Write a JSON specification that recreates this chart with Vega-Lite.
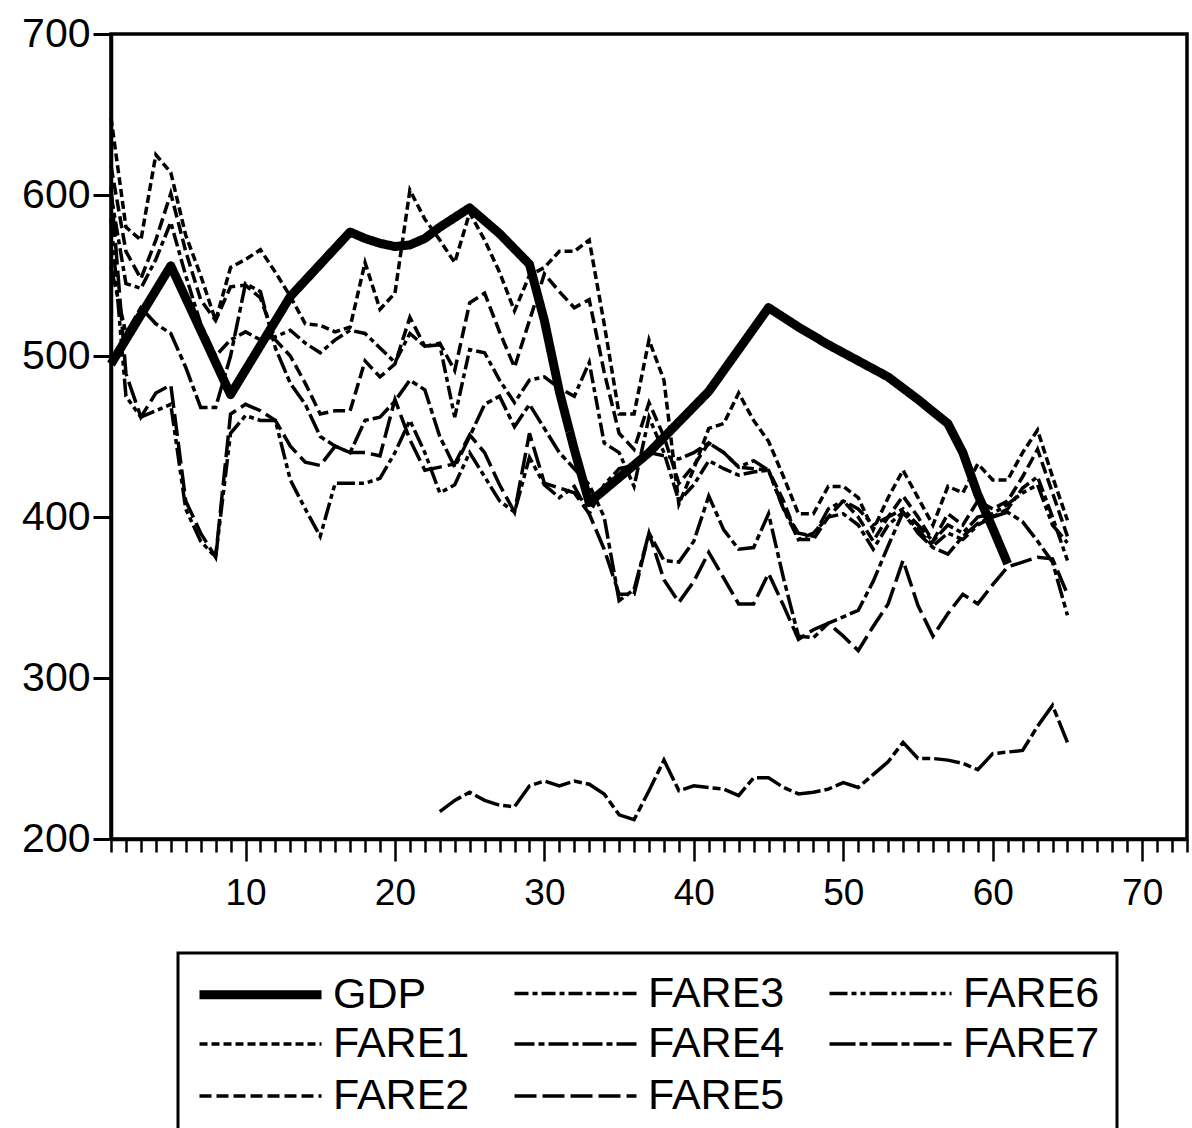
{
  "$schema": "https://vega.github.io/schema/vega-lite/v6.json",
  "width": 1076,
  "height": 805,
  "autosize": {"type": "none"},
  "padding": {"left": 111, "top": 34, "right": 5, "bottom": 289},
  "background": "white",
  "config": {
    "view": {"stroke": "black", "strokeWidth": 3.5},
    "font": "Liberation Sans",
    "axis": {"grid": false, "domainColor": "black", "tickColor": "black", "labelColor": "black", "labelFont": "Liberation Sans"},
    "legend": {"strokeWidth": 3}
  },
  "data": {"values": [
    {"obs":1,"GDP":495,"FARE1":648,"FARE2":618,"FARE3":600,"FARE4":555,"FARE5":605,"FARE6":585,"FARE7":null},
    {"obs":2,"GDP":null,"FARE1":580,"FARE2":565,"FARE3":545,"FARE4":514,"FARE5":489,"FARE6":475,"FARE7":null},
    {"obs":3,"GDP":null,"FARE1":572,"FARE2":548,"FARE3":542,"FARE4":530,"FARE5":462,"FARE6":462,"FARE7":null},
    {"obs":4,"GDP":null,"FARE1":625,"FARE2":572,"FARE3":560,"FARE4":520,"FARE5":477,"FARE6":466,"FARE7":null},
    {"obs":5,"GDP":556,"FARE1":614,"FARE2":601,"FARE3":583,"FARE4":514,"FARE5":482,"FARE6":470,"FARE7":null},
    {"obs":6,"GDP":null,"FARE1":575,"FARE2":565,"FARE3":550,"FARE4":493,"FARE5":410,"FARE6":405,"FARE7":null},
    {"obs":7,"GDP":null,"FARE1":550,"FARE2":535,"FARE3":520,"FARE4":468,"FARE5":390,"FARE6":385,"FARE7":null},
    {"obs":8,"GDP":null,"FARE1":522,"FARE2":522,"FARE3":500,"FARE4":468,"FARE5":375,"FARE6":375,"FARE7":null},
    {"obs":9,"GDP":476,"FARE1":555,"FARE2":543,"FARE3":510,"FARE4":500,"FARE5":464,"FARE6":452,"FARE7":null},
    {"obs":10,"GDP":null,"FARE1":560,"FARE2":544,"FARE3":515,"FARE4":545,"FARE5":470,"FARE6":463,"FARE7":null},
    {"obs":11,"GDP":null,"FARE1":566,"FARE2":536,"FARE3":510,"FARE4":540,"FARE5":466,"FARE6":460,"FARE7":null},
    {"obs":12,"GDP":null,"FARE1":552,"FARE2":510,"FARE3":512,"FARE4":505,"FARE5":460,"FARE6":460,"FARE7":null},
    {"obs":13,"GDP":537,"FARE1":537,"FARE2":500,"FARE3":516,"FARE4":483,"FARE5":444,"FARE6":423,"FARE7":null},
    {"obs":14,"GDP":null,"FARE1":520,"FARE2":483,"FARE3":508,"FARE4":470,"FARE5":434,"FARE6":405,"FARE7":null},
    {"obs":15,"GDP":null,"FARE1":519,"FARE2":464,"FARE3":502,"FARE4":450,"FARE5":432,"FARE6":388,"FARE7":null},
    {"obs":16,"GDP":null,"FARE1":515,"FARE2":466,"FARE3":510,"FARE4":444,"FARE5":444,"FARE6":421,"FARE7":null},
    {"obs":17,"GDP":577,"FARE1":518,"FARE2":466,"FARE3":516,"FARE4":440,"FARE5":440,"FARE6":421,"FARE7":null},
    {"obs":18,"GDP":573,"FARE1":558,"FARE2":497,"FARE3":514,"FARE4":460,"FARE5":440,"FARE6":421,"FARE7":null},
    {"obs":19,"GDP":570,"FARE1":529,"FARE2":487,"FARE3":505,"FARE4":462,"FARE5":438,"FARE6":424,"FARE7":null},
    {"obs":20,"GDP":568,"FARE1":539,"FARE2":495,"FARE3":496,"FARE4":472,"FARE5":473,"FARE6":440,"FARE7":null},
    {"obs":21,"GDP":569,"FARE1":603,"FARE2":524,"FARE3":514,"FARE4":485,"FARE5":448,"FARE6":460,"FARE7":null},
    {"obs":22,"GDP":573,"FARE1":585,"FARE2":506,"FARE3":506,"FARE4":479,"FARE5":429,"FARE6":440,"FARE7":null},
    {"obs":23,"GDP":580,"FARE1":572,"FARE2":508,"FARE3":507,"FARE4":450,"FARE5":431,"FARE6":415,"FARE7":217},
    {"obs":24,"GDP":586,"FARE1":558,"FARE2":491,"FARE3":462,"FARE4":431,"FARE5":433,"FARE6":420,"FARE7":224},
    {"obs":25,"GDP":592,"FARE1":589,"FARE2":533,"FARE3":504,"FARE4":450,"FARE5":451,"FARE6":440,"FARE7":229},
    {"obs":26,"GDP":null,"FARE1":572,"FARE2":539,"FARE3":502,"FARE4":470,"FARE5":440,"FARE6":425,"FARE7":224},
    {"obs":27,"GDP":576,"FARE1":552,"FARE2":515,"FARE3":485,"FARE4":475,"FARE5":420,"FARE6":410,"FARE7":221},
    {"obs":28,"GDP":null,"FARE1":528,"FARE2":493,"FARE3":471,"FARE4":456,"FARE5":403,"FARE6":403,"FARE7":220},
    {"obs":29,"GDP":557,"FARE1":550,"FARE2":522,"FARE3":485,"FARE4":470,"FARE5":452,"FARE6":437,"FARE7":233},
    {"obs":30,"GDP":522,"FARE1":555,"FARE2":551,"FARE3":487,"FARE4":455,"FARE5":421,"FARE6":420,"FARE7":236},
    {"obs":31,"GDP":478,"FARE1":565,"FARE2":540,"FARE3":480,"FARE4":440,"FARE5":418,"FARE6":412,"FARE7":233},
    {"obs":32,"GDP":442,"FARE1":565,"FARE2":530,"FARE3":475,"FARE4":430,"FARE5":415,"FARE6":419,"FARE7":236},
    {"obs":33,"GDP":409,"FARE1":572,"FARE2":535,"FARE3":496,"FARE4":420,"FARE5":402,"FARE6":402,"FARE7":234},
    {"obs":34,"GDP":null,"FARE1":520,"FARE2":490,"FARE3":446,"FARE4":400,"FARE5":380,"FARE6":420,"FARE7":228},
    {"obs":35,"GDP":null,"FARE1":464,"FARE2":452,"FARE3":440,"FARE4":348,"FARE5":352,"FARE6":430,"FARE7":215},
    {"obs":36,"GDP":null,"FARE1":464,"FARE2":442,"FARE3":419,"FARE4":355,"FARE5":352,"FARE6":432,"FARE7":212},
    {"obs":37,"GDP":440,"FARE1":510,"FARE2":471,"FARE3":462,"FARE4":390,"FARE5":390,"FARE6":440,"FARE7":230},
    {"obs":38,"GDP":null,"FARE1":485,"FARE2":450,"FARE3":440,"FARE4":373,"FARE5":361,"FARE6":438,"FARE7":249},
    {"obs":39,"GDP":null,"FARE1":408,"FARE2":421,"FARE3":410,"FARE4":372,"FARE5":347,"FARE6":436,"FARE7":230},
    {"obs":40,"GDP":null,"FARE1":430,"FARE2":432,"FARE3":420,"FARE4":385,"FARE5":360,"FARE6":440,"FARE7":233},
    {"obs":41,"GDP":478,"FARE1":455,"FARE2":446,"FARE3":435,"FARE4":413,"FARE5":378,"FARE6":446,"FARE7":232},
    {"obs":42,"GDP":null,"FARE1":458,"FARE2":440,"FARE3":430,"FARE4":392,"FARE5":362,"FARE6":440,"FARE7":231},
    {"obs":43,"GDP":504,"FARE1":477,"FARE2":431,"FARE3":426,"FARE4":380,"FARE5":346,"FARE6":431,"FARE7":227},
    {"obs":44,"GDP":null,"FARE1":460,"FARE2":430,"FARE3":428,"FARE4":381,"FARE5":346,"FARE6":435,"FARE7":238},
    {"obs":45,"GDP":530,"FARE1":447,"FARE2":429,"FARE3":429,"FARE4":402,"FARE5":365,"FARE6":429,"FARE7":238},
    {"obs":46,"GDP":null,"FARE1":425,"FARE2":410,"FARE3":405,"FARE4":362,"FARE5":345,"FARE6":405,"FARE7":232},
    {"obs":47,"GDP":518,"FARE1":402,"FARE2":386,"FARE3":386,"FARE4":326,"FARE5":324,"FARE6":390,"FARE7":228},
    {"obs":48,"GDP":null,"FARE1":402,"FARE2":386,"FARE3":390,"FARE4":325,"FARE5":330,"FARE6":388,"FARE7":229},
    {"obs":49,"GDP":507,"FARE1":419,"FARE2":400,"FARE3":400,"FARE4":334,"FARE5":334,"FARE6":405,"FARE7":231},
    {"obs":50,"GDP":null,"FARE1":419,"FARE2":410,"FARE3":402,"FARE4":338,"FARE5":326,"FARE6":410,"FARE7":235},
    {"obs":51,"GDP":497,"FARE1":412,"FARE2":400,"FARE3":395,"FARE4":342,"FARE5":317,"FARE6":405,"FARE7":232},
    {"obs":52,"GDP":null,"FARE1":392,"FARE2":385,"FARE3":380,"FARE4":360,"FARE5":332,"FARE6":395,"FARE7":240},
    {"obs":53,"GDP":487,"FARE1":412,"FARE2":400,"FARE3":395,"FARE4":382,"FARE5":346,"FARE6":400,"FARE7":248},
    {"obs":54,"GDP":null,"FARE1":429,"FARE2":413,"FARE3":403,"FARE4":403,"FARE5":373,"FARE6":405,"FARE7":260},
    {"obs":55,"GDP":473,"FARE1":412,"FARE2":400,"FARE3":392,"FARE4":390,"FARE5":345,"FARE6":395,"FARE7":250},
    {"obs":56,"GDP":null,"FARE1":395,"FARE2":385,"FARE3":382,"FARE4":381,"FARE5":326,"FARE6":385,"FARE7":250},
    {"obs":57,"GDP":458,"FARE1":419,"FARE2":402,"FARE3":390,"FARE4":377,"FARE5":340,"FARE6":395,"FARE7":249},
    {"obs":58,"GDP":440,"FARE1":415,"FARE2":395,"FARE3":386,"FARE4":388,"FARE5":352,"FARE6":390,"FARE7":247},
    {"obs":59,"GDP":414,"FARE1":433,"FARE2":410,"FARE3":395,"FARE4":396,"FARE5":346,"FARE6":400,"FARE7":243},
    {"obs":60,"GDP":393,"FARE1":423,"FARE2":405,"FARE3":400,"FARE4":400,"FARE5":358,"FARE6":402,"FARE7":253},
    {"obs":61,"GDP":371,"FARE1":423,"FARE2":410,"FARE3":405,"FARE4":403,"FARE5":369,"FARE6":408,"FARE7":254},
    {"obs":62,"GDP":null,"FARE1":440,"FARE2":425,"FARE3":418,"FARE4":397,"FARE5":372,"FARE6":415,"FARE7":255},
    {"obs":63,"GDP":null,"FARE1":454,"FARE2":442,"FARE3":425,"FARE4":385,"FARE5":375,"FARE6":420,"FARE7":270},
    {"obs":64,"GDP":null,"FARE1":425,"FARE2":415,"FARE3":400,"FARE4":372,"FARE5":374,"FARE6":395,"FARE7":283},
    {"obs":65,"GDP":null,"FARE1":398,"FARE2":388,"FARE3":373,"FARE4":339,"FARE5":352,"FARE6":384,"FARE7":260}
  ]},
  "transform": [
    {"fold": ["GDP","FARE1","FARE2","FARE3","FARE4","FARE5","FARE6","FARE7"], "as": ["series","value"]},
    {"filter": "datum.value != null"}
  ],
  "encoding": {
    "x": {
      "field": "obs", "type": "quantitative",
      "scale": {"domain": [1, 73], "nice": false, "zero": false},
      "axis": {
        "title": null,
        "values": [1,2,3,4,5,6,7,8,9,10,11,12,13,14,15,16,17,18,19,20,21,22,23,24,25,26,27,28,29,30,31,32,33,34,35,36,37,38,39,40,41,42,43,44,45,46,47,48,49,50,51,52,53,54,55,56,57,58,59,60,61,62,63,64,65,66,67,68,69,70,71,72,73],
        "labelExpr": "datum.value % 10 === 0 ? datum.label : ''",
        "tickSize": {"condition": {"test": "datum.value % 10 === 0", "value": 22}, "value": 13},
        "tickWidth": 2.5,
        "domainWidth": 3.5,
        "labelFontSize": 37,
        "labelPadding": 14,
        "labelOverlap": false,
        "labelFlush": false
      }
    },
    "y": {
      "field": "value", "type": "quantitative",
      "scale": {"domain": [200, 700], "nice": false, "zero": false},
      "axis": {
        "title": null,
        "values": [200,300,400,500,600,700],
        "tickSize": 18,
        "tickWidth": 3,
        "domainWidth": 3.5,
        "labelFontSize": 41,
        "labelPadding": 3,
        "labelFlush": false,
        "labelOverlap": false
      }
    },
    "color": {
      "field": "series", "type": "nominal",
      "scale": {"domain": ["GDP","FARE1","FARE2","FARE3","FARE4","FARE5","FARE6","FARE7"], "range": ["black","black","black","black","black","black","black","black"]},
      "legend": {
        "orient": "none", "legendX": 67, "legendY": 919, "title": null,
        "values": ["GDP","FARE1","FARE2","FARE3","FARE4","FARE5","FARE6","FARE7"],
        "columns": 3, "gridAlign": "all", "columnPadding": 37, "rowPadding": 5,
        "symbolType": "M-1,0H5.1", "symbolSize": 1600,
        "labelFont": "Liberation Sans", "labelFontSize": 43, "labelColor": "black", "labelOffset": 89,
        "padding": 17, "strokeColor": "black", "fillColor": "white"
      }
    },
    "strokeDash": {
      "field": "series", "type": "nominal",
      "scale": {"domain": ["GDP","FARE1","FARE2","FARE3","FARE4","FARE5","FARE6","FARE7"],
        "range": [[1,0],[8,4],[12,5],[14,4,5,4],[20,4,6,4],[22,6],[18,4,5,4,5,4],[26,4,8,4]]},
      "legend": {
        "orient": "none", "legendX": 67, "legendY": 919, "title": null,
        "values": ["GDP","FARE1","FARE2","FARE3","FARE4","FARE5","FARE6","FARE7"],
        "columns": 3, "gridAlign": "all", "columnPadding": 37, "rowPadding": 5,
        "symbolType": "M-1,0H5.1", "symbolSize": 1600,
        "labelFont": "Liberation Sans", "labelFontSize": 43, "labelColor": "black", "labelOffset": 89,
        "padding": 17, "strokeColor": "black", "fillColor": "white"
      }
    },
    "strokeWidth": {
      "field": "series", "type": "nominal",
      "scale": {"type": "ordinal", "domain": ["GDP","FARE1","FARE2","FARE3","FARE4","FARE5","FARE6","FARE7"], "range": [9,3.5,3.5,3.5,3.5,3.5,3.5,3.5]},
      "legend": {
        "orient": "none", "legendX": 67, "legendY": 919, "title": null,
        "values": ["GDP","FARE1","FARE2","FARE3","FARE4","FARE5","FARE6","FARE7"],
        "columns": 3, "gridAlign": "all", "columnPadding": 37, "rowPadding": 5,
        "symbolType": "M-1,0H5.1", "symbolSize": 1600,
        "labelFont": "Liberation Sans", "labelFontSize": 43, "labelColor": "black", "labelOffset": 89,
        "padding": 17, "strokeColor": "black", "fillColor": "white"
      }
    }
  },
  "layer": [
    {"transform": [{"filter": "datum.series != 'GDP'"}], "mark": {"type": "line", "strokeJoin": "miter", "strokeCap": "butt"}},
    {"transform": [{"filter": "datum.series == 'GDP'"}], "mark": {"type": "line", "strokeJoin": "round", "strokeCap": "butt"}}
  ]
}
